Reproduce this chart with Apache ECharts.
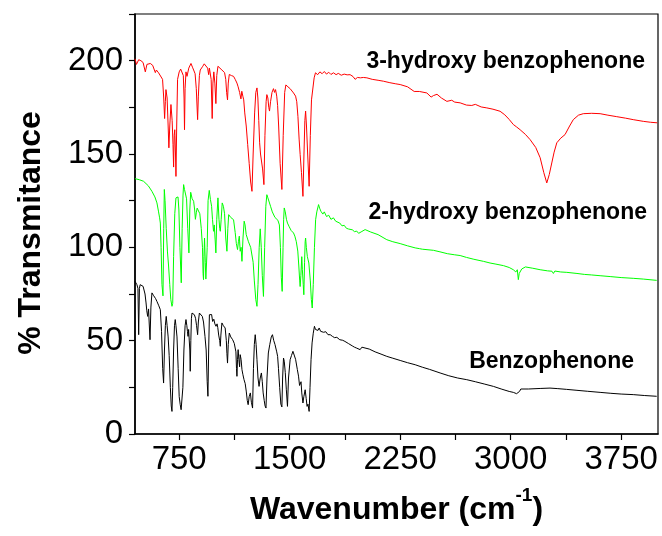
<!DOCTYPE html>
<html>
<head>
<meta charset="utf-8">
<script src="https://cdn.jsdelivr.net/npm/echarts@6/dist/echarts.min.js"></script>
<style>html,body{margin:0;padding:0;background:#fff}#c{width:662px;height:536px}</style>
</head>
<body>
<div id="c"></div>
<script>
// Wavenumber (cm-1), % Transmittance (offset spectra)
const hydroxy3 = [
[450,201],[460,198],[475,200.5],[490,200],[505,199],[520,194],[531,198],[554,198.5],[570,197.5],[576,197],[588,193.6],[595,195],[610,193.5],[622,192.5],[637,190],[645,180],[651,169],[656,178],[660,184.5],[668,180],[675,165],[680,153.3],[686,165],[694,176.5],[702,168],[708,155],[712,143],[716,160],[720,163],[725,150],[728,138],[733,165],[739,190],[750,194],[760,195.5],[769,195.6],[778,192],[783,180],[786,163],[790,185],[796,194],[803,191.6],[815,196],[830,198.5],[840,196.5],[848,195],[858,193],[866,185],[875,168.4],[880,181],[887,192],[893,195],[900,194.5],[910,197],[920,198.3],[930,197.5],[943,196],[950,192.5],[955,196],[961,197],[967,190],[974,169],[979,188],[985,194],[992,188],[999,177],[1005,192],[1013,197],[1025,196.5],[1040,195],[1050,194.5],[1058,193.6],[1066,190],[1072,183],[1078,179],[1083,188],[1090,192.6],[1105,192],[1119,191.6],[1130,190],[1142,188],[1150,186],[1160,183],[1169,179.5],[1175,183.6],[1182,181],[1188,179],[1195,172],[1205,165],[1215,155],[1225,145],[1235,135],[1244,130],[1252,150],[1262,172],[1270,183],[1278,185.4],[1284,180],[1290,168],[1296,156],[1302,150],[1310,149.7],[1316,142],[1325,133.6],[1332,160],[1340,178],[1345,181.8],[1352,180],[1358,175],[1363,173],[1370,178],[1380,183],[1390,185],[1397,183],[1404,184.5],[1412,181],[1418,176],[1425,165],[1435,145],[1447,131],[1456,160],[1466,183],[1474,187],[1481,186.5],[1488,186],[1495,187],[1503,185],[1512,184],[1526,182.7],[1540,181],[1548,178],[1556,170],[1564,158],[1571,149.7],[1580,140],[1590,127.3],[1597,150],[1603,168],[1608,173],[1614,165],[1622,150],[1632,132.7],[1640,160],[1648,179],[1655,180],[1666,190.8],[1675,193.5],[1690,192.5],[1705,194],[1720,193],[1735,194.2],[1750,192.8],[1765,193.8],[1780,192.6],[1797,193.5],[1815,192.5],[1830,193.2],[1850,192.2],[1870,192.8],[1890,192.4],[1910,192.5],[1930,191.5],[1944,190],[1960,191],[1980,190.8],[2000,191],[2024,190.8],[2060,190],[2100,189.5],[2136,189],[2180,188.2],[2220,187.6],[2250,187.2],[2300,186],[2345,183.5],[2355,184.5],[2380,183.5],[2431,182.7],[2460,180.5],[2476,181.3],[2500,182],[2530,180],[2567,178.2],[2600,178.8],[2620,177.8],[2657,177.4],[2700,176.2],[2736,176],[2760,176.6],[2800,175.2],[2838,174.7],[2880,174],[2928,172.9],[2960,171],[2990,168.5],[3018,165.8],[3040,164.5],[3064,163],[3100,160.5],[3132,157.7],[3170,153.5],[3200,148],[3225,140],[3245,134.5],[3262,139],[3279,145.2],[3295,151],[3313,156],[3340,158.5],[3369,160.4],[3400,165],[3425,168.4],[3460,170.8],[3493,171.6],[3550,171.8],[3607,171.6],[3660,170.8],[3720,170],[3780,169.2],[3832,168.4],[3900,167.5],[3950,167],[3995,166.7]
];
const hydroxy2 = [
[450,136.8],[480,136.2],[508,135.4],[540,133],[565,130],[585,127],[599,123.8],[610,119],[617,115.8],[622,113],[627,100],[633,80],[640,74],[645,110],[649,131],[654,125],[662,110],[670,98],[678,90],[686,80],[693,72],[701,68.4],[706,70],[712,95],[720,118],[728,126.5],[735,126.5],[742,127],[748,120],[755,100],[764,81],[770,110],[776,128],[780,133.6],[786,131],[793,131],[800,126],[808,110],[816,97],[822,120],[828,129.5],[838,126],[848,124.7],[855,120],[860,115],[866,118.5],[872,121],[880,121],[890,118],[900,110],[908,100],[912,86],[915,82.7],[918,95],[922,105],[927,92],[931,83],[935,82.7],[940,100],[946,125],[954,130.5],[962,125.6],[970,122],[976,115],[983,108.6],[988,112],[994,104],[999,97],[1005,115],[1013,126.5],[1020,115],[1025,110],[1029,108.6],[1035,115],[1042,123.8],[1050,122],[1058,118],[1066,105],[1074,97.9],[1080,110],[1086,117.5],[1100,116],[1119,114.8],[1130,108],[1138,102],[1146,98.8],[1152,103],[1158,106],[1164,97.9],[1170,100],[1176,92.5],[1183,105],[1191,114],[1197,112],[1205,106.8],[1220,103],[1235,100],[1244,99.7],[1252,92],[1260,82],[1270,72],[1278,68.4],[1285,80],[1293,100],[1300,109.9],[1307,100],[1314,85],[1322,73.7],[1330,100],[1338,122],[1345,128.2],[1352,126.5],[1360,126],[1370,122],[1382,119],[1390,118.4],[1400,116],[1412,115],[1420,114.5],[1430,112],[1437,100],[1443,84],[1449,76.4],[1455,100],[1459,115],[1463,121.1],[1470,119],[1478,115],[1485,113],[1497,111],[1510,109],[1526,107.7],[1535,106],[1545,103],[1555,98],[1562,90],[1568,82],[1571,79],[1576,85],[1582,95],[1586,88],[1592,80],[1596,74.6],[1601,92],[1605,103],[1608,105],[1613,100],[1620,95],[1630,91.6],[1640,82],[1647,72],[1653,67.5],[1660,80],[1668,100],[1676,114.8],[1684,119],[1696,122.9],[1703,121],[1712,119.3],[1725,117.8],[1735,119],[1750,116.5],[1765,117.2],[1780,115],[1797,115.8],[1812,114],[1825,113.5],[1840,113],[1855,111.5],[1870,111.8],[1885,110.2],[1900,109.8],[1910,110.4],[1925,109.4],[1940,108.4],[1955,108.7],[1968,107.5],[1978,106.8],[1990,108.5],[2012,109.5],[2050,108.2],[2100,106.8],[2159,104.1],[2200,103],[2250,102],[2300,100.8],[2352,99.7],[2380,99.3],[2400,99],[2476,98.4],[2520,97.6],[2570,96.6],[2620,96],[2657,95.6],[2700,94.6],[2750,93.6],[2815,92.5],[2860,91.6],[2900,91],[2951,90.2],[2990,89.2],[3018,88],[3035,86.8],[3045,88],[3052,82.7],[3058,86],[3066,87],[3075,88.4],[3100,89.5],[3150,88.8],[3200,88],[3250,87.4],[3280,87.2],[3290,86],[3300,87.3],[3340,86.8],[3381,86.6],[3450,86],[3500,85.5],[3550,85.2],[3607,84.8],[3680,84.3],[3750,83.8],[3832,83.4],[3900,83],[3991,82.3]
];
const benzophenone = [
[450,81.8],[463,80],[470,78],[475,53.2],[480,78],[485,80],[495,79.5],[505,79.1],[518,75],[525,70.2],[530,66],[536,63],[542,67],[546,60],[552,50.5],[558,68],[565,75.6],[575,74.3],[583,73.7],[590,72.5],[599,71],[610,69],[622,66.6],[630,55],[638,35],[644,27.3],[650,45],[656,58],[662,63],[668,58],[675,52],[682,42],[690,25],[696,15],[701,12.1],[706,25],[712,45],[718,58],[723,61.3],[728,58],[735,52],[743,35],[750,20],[757,15.7],[763,13],[769,13.4],[775,25],[782,45],[790,58],[796,61.3],[802,58],[806,55],[810,52.3],[814,56],[818,55],[822,45],[825,33.6],[829,50],[833,62],[837,64.8],[845,64.5],[853,63.9],[861,62],[868,58],[875,53.2],[880,60],[887,64.8],[895,64],[907,63],[915,60],[925,52.3],[933,45],[940,28],[945,20.2],[950,45],[955,63.9],[962,63],[970,64],[977,60.3],[985,61.5],[992,59],[1000,57.7],[1007,59],[1012,57],[1018,53],[1025,50],[1029,47],[1033,53],[1040,59.5],[1050,58],[1062,56.8],[1070,50],[1074,43],[1078,38],[1083,48],[1090,54.1],[1100,52],[1108,51],[1113,50.5],[1124,48.5],[1130,47.9],[1135,44],[1139,35],[1142,30.9],[1146,40],[1150,45.2],[1155,40],[1160,36],[1164,42.5],[1170,40],[1176,34.5],[1182,32],[1190,29.1],[1198,27],[1205,23],[1212,18],[1218,15.7],[1225,20],[1233,22],[1240,17],[1248,13.9],[1254,35],[1260,48],[1266,53.2],[1272,48],[1278,39.8],[1285,30],[1292,25.5],[1300,30],[1308,32.7],[1314,28],[1320,22],[1327,18],[1333,15],[1339,13.9],[1346,30],[1355,43.4],[1365,48],[1375,52],[1383,53.2],[1392,50],[1400,48],[1406,47],[1412,44],[1418,41.6],[1424,35],[1432,25],[1440,16],[1447,14.5],[1452,30],[1458,40.7],[1463,39],[1470,33],[1477,24],[1485,14.8],[1492,30],[1503,39.8],[1512,42],[1522,44.3],[1530,43.5],[1540,40],[1552,34.5],[1560,31],[1567,26],[1572,25.5],[1577,28],[1582,22],[1590,16.6],[1596,20],[1605,23.7],[1612,19],[1618,14.8],[1624,16],[1632,12.1],[1638,25],[1645,40],[1652,48.8],[1660,54],[1668,57.7],[1675,56],[1684,56.8],[1692,55.5],[1700,56.8],[1710,55],[1718,55.6],[1730,54.5],[1745,54.8],[1760,53.2],[1775,53.2],[1790,52.3],[1805,51.6],[1820,51.8],[1840,50.5],[1860,50.2],[1875,49.6],[1888,49.6],[1900,48.4],[1910,47.9],[1925,47.2],[1940,46.5],[1955,46],[1968,45.2],[1978,45.2],[1990,46.5],[2001,47],[2040,45.5],[2080,44],[2120,42.8],[2159,41.6],[2200,40.6],[2250,39.4],[2300,38.2],[2352,37.1],[2400,35.8],[2450,34.6],[2521,32.7],[2580,31.2],[2640,30],[2702,29.1],[2760,28],[2820,26.8],[2883,25.5],[2940,24],[2990,22.8],[3018,22.3],[3040,21.6],[3052,21.1],[3060,22.8],[3069,24.1],[3120,24.1],[3200,24.4],[3267,24.6],[3320,24.3],[3380,23.9],[3450,23.4],[3520,22.9],[3607,22.3],[3680,21.8],[3750,21.4],[3832,21.1],[3910,20.6],[3991,20.2]
];
const xLabelValues = [750, 1500, 2250, 3000, 3750];
const xTickValues = [750, 1125, 1500, 1875, 2250, 2625, 3000, 3375, 3750];
const seriesNames = ['3-hydroxy benzophenone', '2-hydroxy benzophenone', 'Benzophenone'];

const FONT = 'Liberation Sans, Arial, Helvetica, sans-serif';
const chart = echarts.init(document.getElementById('c'), null, {renderer: 'canvas'});
chart.setOption({
  animation: false,
  backgroundColor: '#fff',
  grid: {left: 135, right: 4, top: 14, bottom: 102, containLabel: false, show: true, borderColor: '#000', borderWidth: 1.2},
  xAxis: {
    type: 'value', min: 450, max: 4000,
    name: '{a|Wavenumber (cm}{s|-1}{a|)}',
    nameLocation: 'middle', nameGap: 52,
    nameTextStyle: {rich: {
      a: {fontFamily: FONT, fontSize: 32, fontWeight: 'bold', color: '#000', verticalAlign: 'bottom', lineHeight: 40},
      s: {fontFamily: FONT, fontSize: 19, fontWeight: 'bold', color: '#000', verticalAlign: 'top', lineHeight: 40}
    }},
    axisLine: {lineStyle: {color: '#000', width: 1.6}},
    axisTick: {customValues: xTickValues, length: 6, inside: false, lineStyle: {color: '#000', width: 1.2}},
    axisLabel: {customValues: xLabelValues, fontFamily: FONT, fontSize: 33, color: '#000', margin: 9,
      formatter: v => String(v)},
    splitLine: {show: false}
  },
  yAxis: {
    type: 'value', min: 0, max: 225, interval: 25,
    name: '% Transmitance', nameLocation: 'middle', nameGap: 88,
    nameTextStyle: {fontFamily: FONT, fontSize: 32, fontWeight: 'bold', color: '#000', padding: [0, 18, 0, 0]},
    axisLine: {show: true, lineStyle: {color: '#000', width: 1.6}},
    axisTick: {show: true, length: 6, lineStyle: {color: '#000', width: 1.2}},
    axisLabel: {fontFamily: FONT, fontSize: 33, color: '#000', margin: 12,
      formatter: v => (v % 50 === 0 ? String(v) : '')},
    splitLine: {show: false}
  },
  series: [
    {name: seriesNames[0], type: 'line', data: hydroxy3, showSymbol: false, lineStyle: {color: '#ff0000', width: 1}, itemStyle: {color: '#ff0000'}},
    {name: seriesNames[1], type: 'line', data: hydroxy2, showSymbol: false, lineStyle: {color: '#00ff00', width: 1}, itemStyle: {color: '#00ff00'}},
    {name: seriesNames[2], type: 'line', data: benzophenone, showSymbol: false, lineStyle: {color: '#000', width: 1}, itemStyle: {color: '#000'}}
  ],
  graphic: [
    {type: 'text', right: 17, top: 50, style: {text: seriesNames[0], fontFamily: FONT, fontSize: 23, fontWeight: 'bold', fill: '#000'}},
    {type: 'text', right: 15, top: 201, style: {text: seriesNames[1], fontFamily: FONT, fontSize: 23, fontWeight: 'bold', fill: '#000'}},
    {type: 'text', right: 28, top: 350, style: {text: seriesNames[2], fontFamily: FONT, fontSize: 23, fontWeight: 'bold', fill: '#000'}}
  ]
});
</script>
</body>
</html>
